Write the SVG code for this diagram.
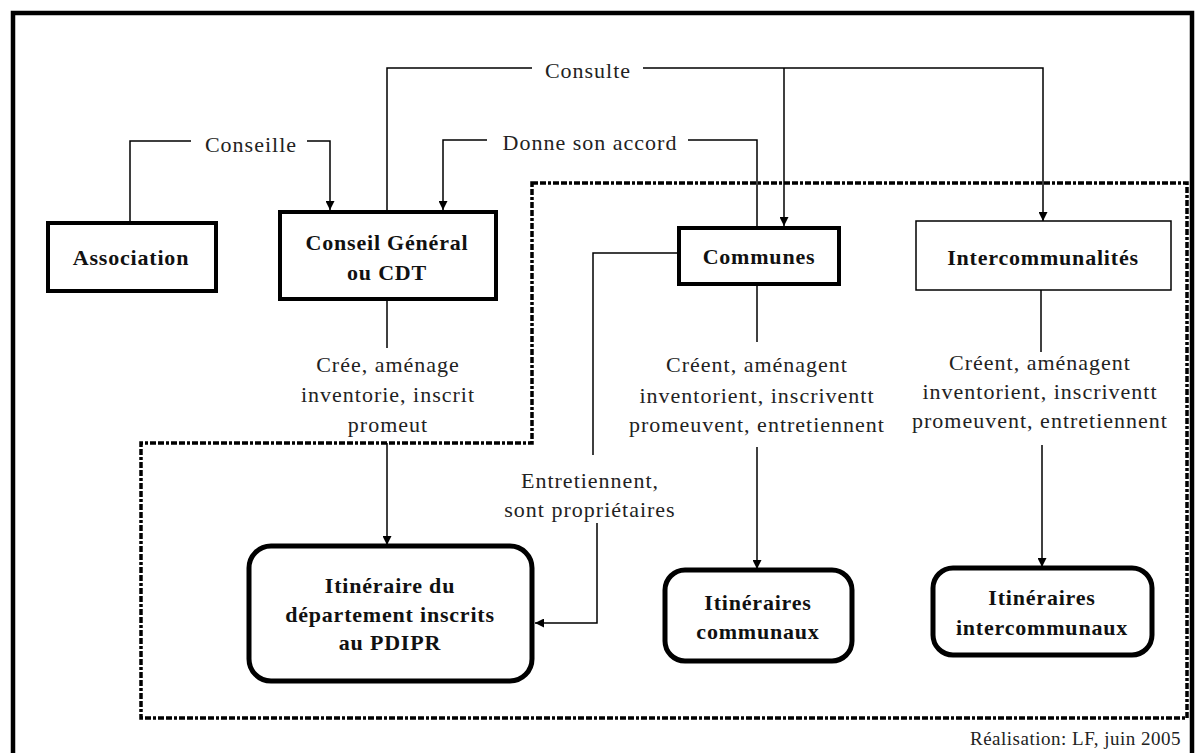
<svg xmlns="http://www.w3.org/2000/svg" width="1204" height="753" viewBox="0 0 1204 753">
  <style>
    .lbl { font-family: "Liberation Serif", "Times New Roman", serif; font-size: 22px; letter-spacing: 1px; fill: #222; text-anchor: middle; }
    .ttl { font-family: "Liberation Serif", "Times New Roman", serif; font-size: 22px; font-weight: bold; letter-spacing: 0.8px; fill: #111; text-anchor: middle; }
    .foot { font-family: "Liberation Serif", "Times New Roman", serif; font-size: 19px; letter-spacing: 0.5px; fill: #222; text-anchor: end; }
    .box { fill: #fff; stroke: #000; stroke-width: 4; }
    .thin { fill: #fff; stroke: #000; stroke-width: 1.5; }
    .round { fill: #fff; stroke: #000; stroke-width: 5; }
    .wire { fill: none; stroke: #000; stroke-width: 1.5; }
    .arrow { fill: none; stroke: #000; stroke-width: 1.5; marker-end: url(#tip); }
    .zone { fill: none; stroke: #000; stroke-width: 3.5; stroke-dasharray: 6 2 6 2 3 2; }
  </style>
  <defs>
    <marker id="tip" viewBox="0 0 10 10" refX="10" refY="5" markerWidth="9" markerHeight="9" markerUnits="userSpaceOnUse" orient="auto">
      <path d="M0,0 L10,5 L0,10 Z" fill="#000"/>
    </marker>
  </defs>

  <rect width="1204" height="753" fill="#fff"/>
  <!-- outer frame -->
  <path d="M13,760 V13 H1192 V760" fill="none" stroke="#000" stroke-width="4.5"/>

  <!-- dotted zone around local actors and routes -->
  <path class="zone" d="M532,183 H1187 V718 H141 V443 H532 Z"/>

  <g id="connectors">
    <!-- Conseille -->
    <path class="wire" d="M130,221 V141 H191"/>
    <text class="lbl" x="251" y="152">Conseille</text>
    <path class="arrow" d="M307,141 H330 V210"/>
    <!-- Consulte -->
    <path class="wire" d="M387,210 V68 H532"/>
    <text class="lbl" x="588" y="78">Consulte</text>
    <path class="arrow" d="M643,68 H1043 V221"/>
    <path class="arrow" d="M784,68 V226"/>
    <!-- Donne son accord -->
    <path class="wire" d="M757,227 V140 H688"/>
    <text class="lbl" x="590" y="150">Donne son accord</text>
    <path class="arrow" d="M487,140 H443 V210"/>
    <!-- Conseil Général to departmental routes -->
    <path class="wire" d="M387,300 V348"/>
    <text class="lbl" x="388" y="372">Crée, aménage</text>
    <text class="lbl" x="388" y="402">inventorie, inscrit</text>
    <text class="lbl" x="388" y="432">promeut</text>
    <path class="arrow" d="M387,443 V545"/>
    <!-- Communes to departmental routes -->
    <path class="wire" d="M678,253 H593 V455"/>
    <text class="lbl" x="590" y="488">Entretiennent,</text>
    <text class="lbl" x="590" y="517">sont propriétaires</text>
    <path class="arrow" d="M597,523 V623 H535"/>
    <!-- Communes to communal routes -->
    <path class="wire" d="M757,285 V342"/>
    <text class="lbl" x="757" y="372">Créent, aménagent</text>
    <text class="lbl" x="757" y="403">inventorient, inscriventt</text>
    <text class="lbl" x="757" y="432">promeuvent, entretiennent</text>
    <path class="arrow" d="M757,447 V569"/>
    <!-- Intercommunalités to intercommunal routes -->
    <path class="wire" d="M1041,290 V352"/>
    <text class="lbl" x="1040" y="370">Créent, aménagent</text>
    <text class="lbl" x="1040" y="399">inventorient, inscriventt</text>
    <text class="lbl" x="1040" y="428">promeuvent, entretiennent</text>
    <path class="arrow" d="M1042,445 V567"/>
  </g>

  <g id="association">
    <rect class="box" x="48" y="223" width="168" height="68"/>
    <text class="ttl" x="131" y="265">Association</text>
  </g>
  <g id="conseil-general">
    <rect class="box" x="280" y="212" width="216" height="87"/>
    <text class="ttl" x="387" y="250">Conseil Général</text>
    <text class="ttl" x="387" y="280">ou CDT</text>
  </g>
  <g id="communes">
    <rect class="box" x="679" y="228" width="160" height="56"/>
    <text class="ttl" x="759" y="264">Communes</text>
  </g>
  <g id="intercommunalites">
    <rect class="thin" x="916" y="221" width="255" height="69"/>
    <text class="ttl" x="1043" y="265">Intercommunalités</text>
  </g>
  <g id="itineraire-departement">
    <rect class="round" x="249" y="546" width="283" height="135" rx="22"/>
    <text class="ttl" x="390" y="593">Itinéraire du</text>
    <text class="ttl" x="390" y="622">département inscrits</text>
    <text class="ttl" x="390" y="650">au PDIPR</text>
  </g>
  <g id="itineraires-communaux">
    <rect class="round" x="665" y="570" width="187" height="91" rx="20"/>
    <text class="ttl" x="758" y="610">Itinéraires</text>
    <text class="ttl" x="758" y="639">communaux</text>
  </g>
  <g id="itineraires-intercommunaux">
    <rect class="round" x="933" y="568" width="219" height="87" rx="20"/>
    <text class="ttl" x="1042" y="605">Itinéraires</text>
    <text class="ttl" x="1042" y="635">intercommunaux</text>
  </g>

  <text class="foot" x="1181" y="745">Réalisation: LF, juin 2005</text>
</svg>
